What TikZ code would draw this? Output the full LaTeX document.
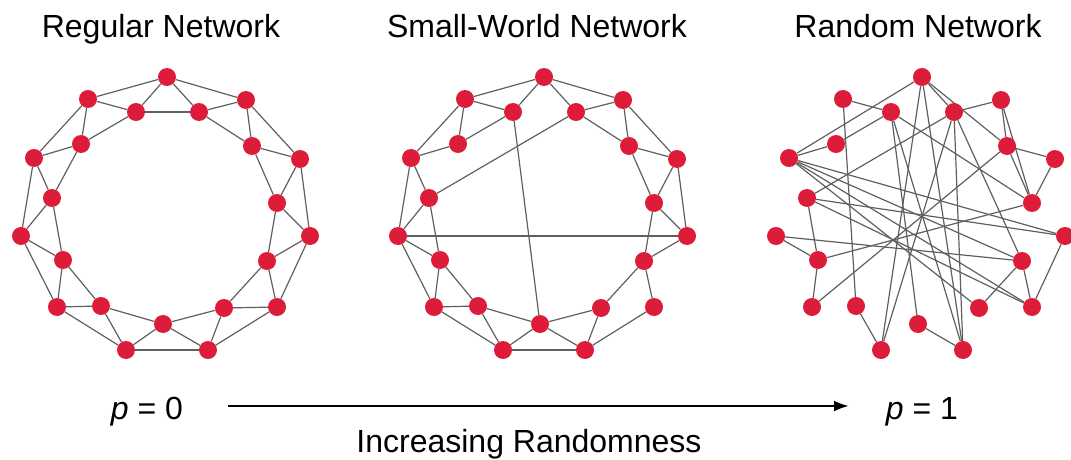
\documentclass[tikz,border=0pt]{standalone}
\usepackage{fontspec}
\setmainfont{Liberation Sans}
\usetikzlibrary{arrows.meta}
\pgfdeclarelayer{background}
\pgfsetlayers{background,main}
\definecolor{nodered}{RGB}{221,28,58}
\definecolor{edgegray}{RGB}{95,95,95}
\begin{document}
\begin{tikzpicture}[x=1pt,y=-1pt,
  vtx/.style={circle,fill=nodered,draw=none,minimum size=18pt,inner sep=0pt},
  link/.style={draw=edgegray,line width=1.2pt},
  title/.style={font=\fontsize{32}{38}\selectfont,anchor=base,inner sep=0pt},
  pointer/.style={line width=2.6pt,-{Latex[length=15pt,width=11pt]}}]
\useasboundingbox (0,0) rectangle (1071,460);

% common zig-zag ring layout, listed in ring order (index/x/y)
\def\ringlayout{0/167/77, 1/199/112, 2/246/100, 3/252/146, 4/300/159,
  5/277/203, 6/310/236, 7/267/261, 8/277/307, 9/224/308, 10/208/350,
  11/163/324, 12/126/350, 13/101/306, 14/57/307, 15/63/260, 16/21/236,
  17/52/198, 18/34/158, 19/81/144, 20/88/99, 21/136/112}

% vertices of the three networks
\foreach \i/\x/\y in \ringlayout {
  \node[vtx] (reg\i) at (\x,\y) {};
  \node[vtx] (sw\i) at (\x+377,\y) {};
  \node[vtx] (rnd\i) at (\x+755,\y) {};
}

\begin{pgfonlayer}{background}
  % regular ring lattice: every vertex linked to its two nearest neighbours on each side
  \foreach \i in {0,...,21} {
    \pgfmathtruncatemacro\j{mod(\i+1,22)}
    \pgfmathtruncatemacro\k{mod(\i+2,22)}
    \draw[link] (reg\i) -- (reg\j);
    \draw[link] (reg\i) -- (reg\k);
  }
  % small-world network: ring lattice with a few rewired links
  \foreach \a/\b in {0/20, 0/21, 0/1, 0/2, 21/20, 21/19, 21/11, 20/19, 20/18,
      19/18, 18/16, 18/17, 17/16, 17/15, 17/1, 16/15, 16/14, 16/6, 15/14,
      15/13, 14/13, 14/12, 13/12, 13/11, 12/11, 12/10, 11/10, 11/9, 10/9,
      10/8, 9/7, 8/7, 7/6, 7/5, 6/5, 6/4, 5/4, 5/3, 4/3, 4/2, 3/2, 3/1, 2/1}
    \draw[link] (sw\a) -- (sw\b);
  % random network
  \foreach \a/\b in {0/18, 0/12, 0/10, 0/1, 0/3, 20/21, 20/13, 21/19, 21/11,
      21/10, 21/5, 1/2, 1/17, 1/12, 1/10, 1/7, 2/3, 2/5, 19/18, 18/6, 18/7,
      18/8, 18/9, 3/4, 3/5, 3/14, 4/5, 17/15, 17/6, 17/8, 16/15, 16/7,
      15/14, 15/5, 7/9, 7/8, 6/8, 13/12, 11/10}
    \draw[link] (rnd\a) -- (rnd\b);
\end{pgfonlayer}

% titles
\node[title] (tReg) at (161,38) {Regular Network};
\node[title] (tSw) at (537,38) {Small-World Network};
\node[title] (tRnd) at (918,38) {Random Network};

% rewiring probability axis
\node[title] (pZero) at (147,419) {\itshape p\upshape{} = 0};
\node[title] (pOne) at (922,419) {\itshape p\upshape{} = 1};
\coordinate (axisStart) at (228,406);
\coordinate (axisEnd) at (849,406);
\draw[pointer] (axisStart) -- (axisEnd);
\node[title] (axisLabel) at (529,452) {Increasing Randomness};
\end{tikzpicture}
\end{document}
